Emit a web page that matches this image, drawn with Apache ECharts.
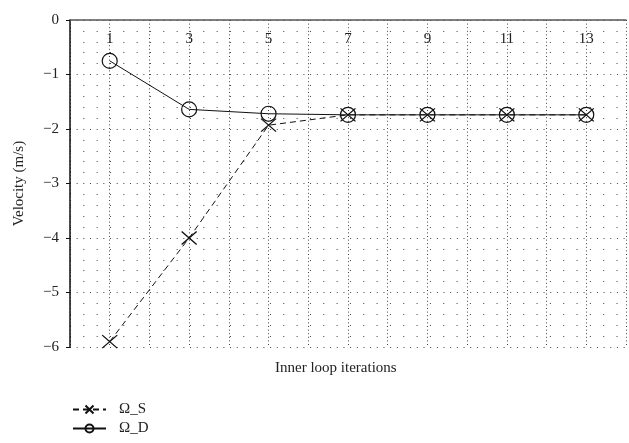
<!DOCTYPE html>
<html>
<head>
<meta charset="utf-8">
<script src="https://cdn.jsdelivr.net/npm/echarts@6/dist/echarts.min.js"></script>
<style>html,body{margin:0;padding:0;background:#fff}#c{width:629px;height:443px}</style>
</head>
<body>
<div id="c"></div>
<script>
const iterations = [1, 3, 5, 7, 9, 11, 13];
const omegaS = [-5.9, -4.0, -1.93, -1.74, -1.74, -1.74, -1.74];
const omegaD = [-0.75, -1.64, -1.72, -1.74, -1.74, -1.74, -1.74];
const xTickLabels = ['1', '3', '5', '7', '9', '11', '13'];
const yTicks = [0, -1, -2, -3, -4, -5, -6];

const FONT = 'Liberation Serif';
const chart = echarts.init(document.getElementById('c'));
const pair = (ys) => iterations.map((x, i) => [x, ys[i]]);

chart.setOption({
  animation: false,
  backgroundColor: '#fff',
  textStyle: { fontFamily: FONT, color: '#222' },
  grid: { left: 70, right: 1, top: 20, bottom: 96 },
  xAxis: {
    type: 'value', position: 'top', min: 0, max: 14, interval: 1,
    axisLine: { show: true, onZero: false, lineStyle: { color: '#555', width: 1.5 } },
    axisTick: { show: false },
    axisLabel: {
      inside: true, margin: 12, fontFamily: FONT, fontSize: 15, color: '#222',
      formatter: v => xTickLabels.includes(String(v)) ? String(v) : ''
    },
    splitLine: { show: true, lineStyle: { color: '#444', type: [1, 2.6], width: 1 } }
  },
  yAxis: {
    type: 'value', min: -6, max: 0, interval: 1,
    name: 'Velocity (m/s)', nameLocation: 'middle', nameGap: 43, nameRotate: 90,
    nameTextStyle: { fontFamily: FONT, fontSize: 15, color: '#222' },
    axisLine: { show: true, lineStyle: { color: '#111', width: 1.5 } },
    axisTick: { show: true, length: 4, lineStyle: { color: '#111' } },
    axisLabel: {
      margin: 11, fontFamily: FONT, fontSize: 15, color: '#222',
      formatter: v => v < 0 ? '\u2212' + Math.abs(v) : String(v)
    },
    splitLine: { show: true, lineStyle: { color: '#444', type: [1, 5.67], width: 1 } },
    minorTick: { show: false, splitNumber: 5 },
    minorSplitLine: { show: true, lineStyle: { color: '#444', type: [1, 12.33], width: 1 } }
  },
  legend: {
    orient: 'vertical', left: 72, top: 402, padding: 0,
    itemWidth: 33, itemHeight: 10, itemGap: 4,
    textStyle: { fontFamily: FONT, fontSize: 15, color: '#222', padding: [0, 0, 0, 8] },
    data: ['\u03A9_S', '\u03A9_D']
  },
  graphic: [{
    type: 'text', left: 275, top: 361,
    style: { text: 'Inner loop iterations', font: '15px "Liberation Serif"', fill: '#222' }
  }],
  series: [
    {
      name: '\u03A9_S', type: 'line', data: pair(omegaS),
      symbol: 'path://M0,0L10,10M10,0L0,10', symbolSize: [15, 13],
      itemStyle: { color: '#111', borderColor: '#111', borderWidth: 1.2 },
      lineStyle: { color: '#111', width: 1, type: [6, 4] }
    },
    {
      name: '\u03A9_D', type: 'line', data: pair(omegaD),
      symbol: 'circle', symbolSize: 15,
      itemStyle: { color: 'rgba(255,255,255,0)', borderColor: '#111', borderWidth: 1.2 },
      lineStyle: { color: '#111', width: 1 }
    }
  ]
});
</script>
</body>
</html>
